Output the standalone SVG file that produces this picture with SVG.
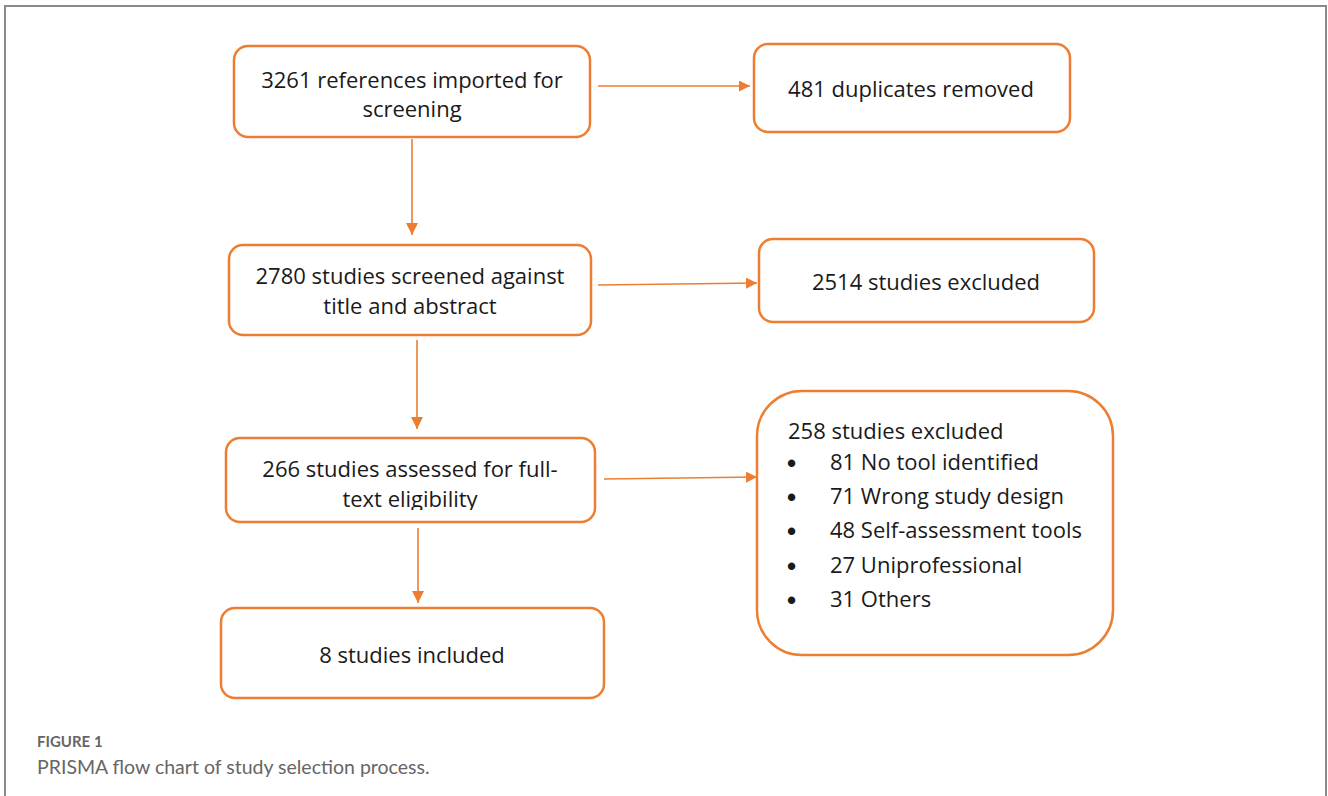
<svg xmlns="http://www.w3.org/2000/svg" width="1328" height="796" viewBox="0 0 1328 796">
<style>
.box{fill:#fff;stroke:#ED7D31;stroke-width:2.5}
.t{font-family:"Open Sans","Liberation Sans",sans-serif;font-size:22px;fill:#1a1a1a}
.c{text-anchor:middle}
.b{font-family:"Liberation Sans",sans-serif;font-size:26px;font-weight:bold;fill:#1a1a1a}
.con line{stroke:#ED7D31;stroke-width:1.6}
.cap{font-family:"Lato","Open Sans","Liberation Sans",sans-serif;fill:#666}
</style>
<defs>
<marker id="ah" viewBox="0 0 10 10" refX="10" refY="5" markerWidth="11" markerHeight="11" markerUnits="userSpaceOnUse" orient="auto">
<path d="M0,0 L10,5 L0,10 Z" fill="#ED7D31"/>
</marker>
<marker id="ahv" viewBox="0 0 12 12" refX="12" refY="6" markerWidth="12" markerHeight="12" markerUnits="userSpaceOnUse" orient="auto">
<path d="M0,0 L12,6 L0,12 Z" fill="#ED7D31"/>
</marker>
<clipPath id="clipE"><rect x="226" y="440" width="369" height="70"/></clipPath>
</defs>
<rect x="0" y="0" width="1328" height="796" fill="#fff"/>
<path d="M5,800 V6 H1326 V800" fill="none" stroke="#8a8a8a" stroke-width="2"/>

<g id="connectors" class="con">
<line x1="598" y1="86" x2="750" y2="86" marker-end="url(#ah)"/>
<line x1="412" y1="139" x2="412" y2="235" marker-end="url(#ahv)"/>
<line x1="598" y1="285" x2="757" y2="283" marker-end="url(#ah)"/>
<line x1="417" y1="340" x2="417" y2="429" marker-end="url(#ahv)"/>
<line x1="604" y1="479" x2="757" y2="477" marker-end="url(#ah)"/>
<line x1="418" y1="528" x2="418" y2="603" marker-end="url(#ahv)"/>
</g>

<g id="nodeA">
<rect class="box" x="234" y="46" width="356" height="91" rx="14"/>
<text class="t c" x="412" y="88">3261 references imported for</text>
<text class="t c" x="412" y="117">screening</text>
</g>
<g id="nodeB">
<rect class="box" x="754" y="44" width="316" height="88" rx="14"/>
<text class="t c" x="911" y="97">481 duplicates removed</text>
</g>
<g id="nodeC">
<rect class="box" x="229" y="245" width="362" height="90" rx="14"/>
<text class="t c" x="410" y="284">2780 studies screened against</text>
<text class="t c" x="410" y="314">title and abstract</text>
</g>
<g id="nodeD">
<rect class="box" x="759" y="239" width="335" height="83" rx="14"/>
<text class="t c" x="926" y="290">2514 studies excluded</text>
</g>
<g id="nodeE">
<rect class="box" x="226" y="438" width="369" height="84" rx="14"/>
<text class="t c" x="410" y="477">266 studies assessed for full-</text>
<text class="t c" x="410" y="507" clip-path="url(#clipE)">text eligibility</text>
</g>
<g id="nodeF">
<rect class="box" x="757" y="391" width="356" height="264" rx="45"/>
<text class="t" x="788" y="439">258 studies excluded</text>
<text class="b" x="787" y="472">•</text><text class="t" x="830" y="470">81 No tool identified</text>
<text class="b" x="787" y="506">•</text><text class="t" x="830" y="504">71 Wrong study design</text>
<text class="b" x="787" y="540">•</text><text class="t" x="830" y="538">48 Self-assessment tools</text>
<text class="b" x="787" y="575">•</text><text class="t" x="830" y="573">27 Uniprofessional</text>
<text class="b" x="787" y="609">•</text><text class="t" x="830" y="607">31 Others</text>
</g>
<g id="nodeG">
<rect class="box" x="221" y="608" width="383" height="90" rx="14"/>
<text class="t c" x="412" y="663">8 studies included</text>
</g>

<text class="cap" x="37" y="747" font-size="15" font-weight="bold">FIGURE 1</text>
<text class="cap" x="37" y="774" font-size="19.5">PRISMA flow chart of study selection process.</text>
</svg>
